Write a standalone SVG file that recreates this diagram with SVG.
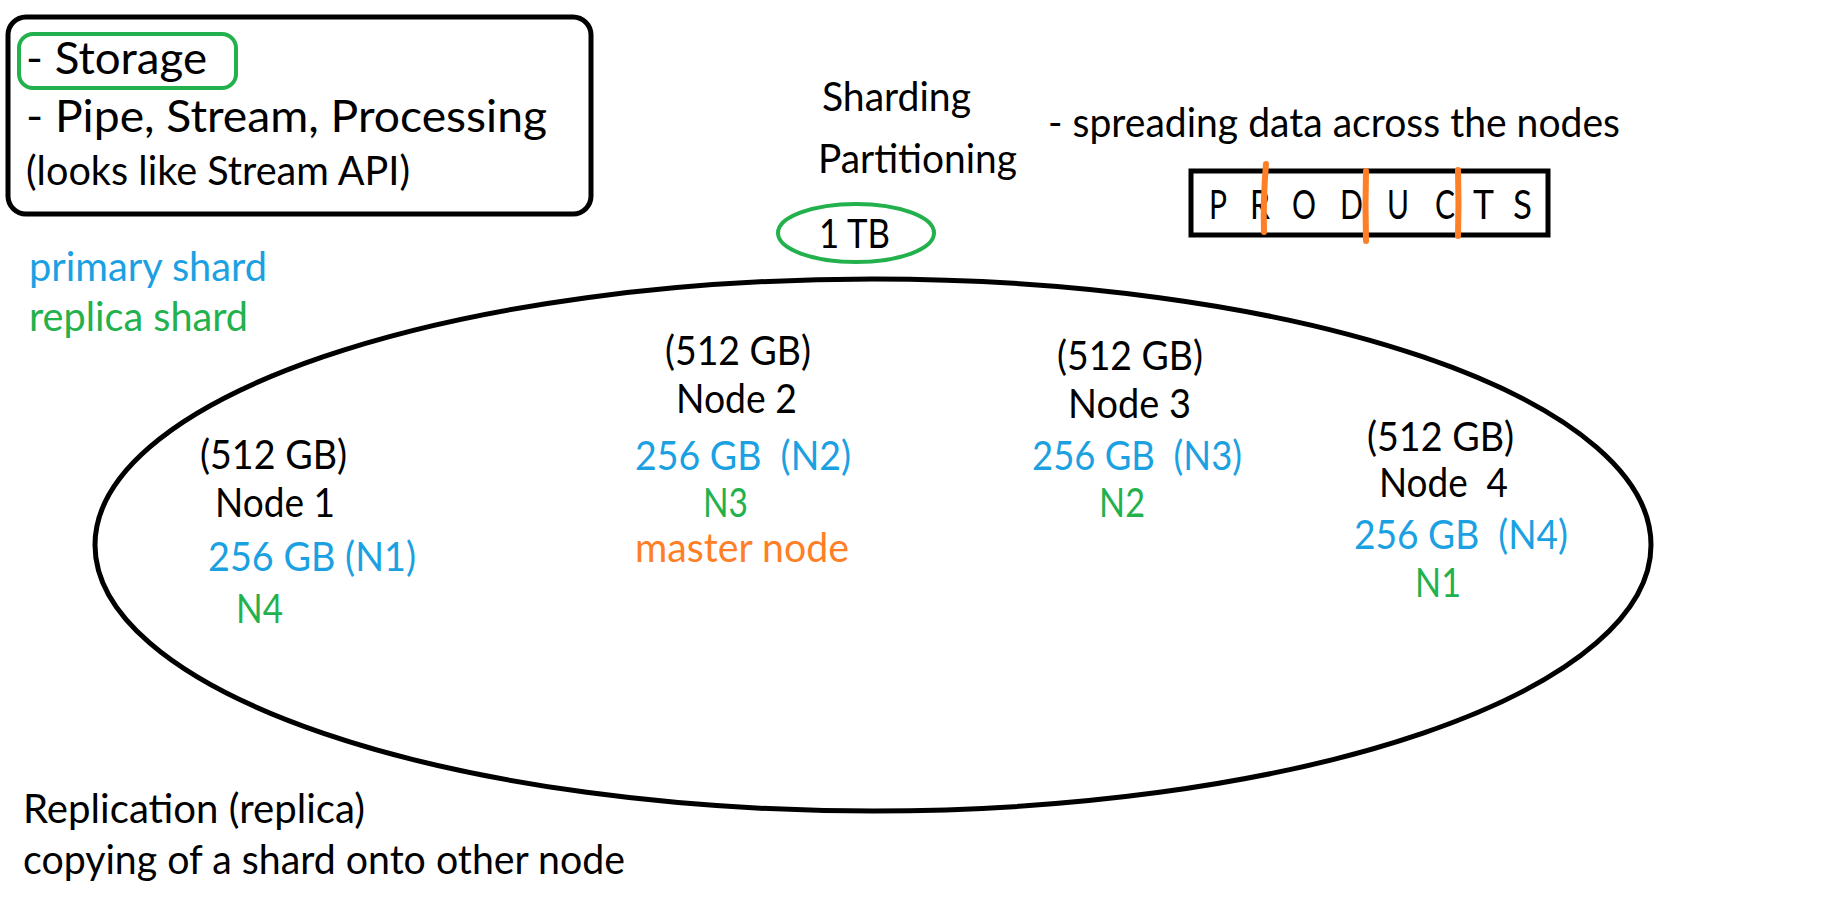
<svg xmlns="http://www.w3.org/2000/svg" width="1825" height="916" viewBox="0 0 1825 916">
<style>
text{font-family:"Lato","Open Sans","Liberation Sans",sans-serif;fill:#000;white-space:pre;}
.t{font-size:40px;}
.b{fill:#1ba1e2;}
.g{fill:#22b14c;}
.o{fill:#ff7f27;}
.big{font-size:45px;}
.blk{fill:none;stroke:#000;stroke-width:5;}
.gs{fill:none;stroke:#22b14c;stroke-width:4;}
.os{fill:none;stroke:#ff7f27;stroke-width:6;stroke-linecap:round;}
</style>
<rect width="1825" height="916" fill="#fff"/>
<g id="features">
<rect class="blk" x="8" y="17" width="583" height="197" rx="18"/>
<rect class="gs" x="19" y="34" width="217" height="54" rx="14"/>
<text class="big" x="26" y="74" textLength="181" lengthAdjust="spacingAndGlyphs">- Storage</text>
<text class="big" x="26" y="132" textLength="521" lengthAdjust="spacingAndGlyphs">- Pipe, Stream, Processing</text>
<text class="t" x="26" y="185" textLength="384" lengthAdjust="spacingAndGlyphs">(looks like Stream API)</text>
</g>
<g id="legend">
<text class="t b" x="29" y="281" textLength="238" lengthAdjust="spacingAndGlyphs">primary shard</text>
<text class="t g" x="29" y="331" textLength="219" lengthAdjust="spacingAndGlyphs">replica shard</text>
</g>
<g id="sharding">
<text class="t" x="822" y="111" textLength="149" lengthAdjust="spacingAndGlyphs">Sharding</text>
<text class="t" x="818" y="173" textLength="199" lengthAdjust="spacingAndGlyphs">Partitioning</text>
<ellipse class="gs" cx="856" cy="233" rx="78" ry="29"/>
<text class="t" x="819" y="248" textLength="71" lengthAdjust="spacingAndGlyphs">1 TB</text>
<text class="t" x="1048" y="137" textLength="572" lengthAdjust="spacingAndGlyphs">- spreading data across the nodes</text>
</g>
<g id="products">
<rect class="blk" x="1191" y="171" width="357" height="64"/>
<text class="t" x="1209" y="219" textLength="18" lengthAdjust="spacingAndGlyphs">P</text>
<text class="t" x="1250" y="219" textLength="20" lengthAdjust="spacingAndGlyphs">R</text>
<text class="t" x="1292" y="219" textLength="24" lengthAdjust="spacingAndGlyphs">O</text>
<text class="t" x="1340" y="219" textLength="23" lengthAdjust="spacingAndGlyphs">D</text>
<text class="t" x="1387" y="219" textLength="22" lengthAdjust="spacingAndGlyphs">U</text>
<text class="t" x="1435" y="219" textLength="20" lengthAdjust="spacingAndGlyphs">C</text>
<text class="t" x="1473" y="219" textLength="21" lengthAdjust="spacingAndGlyphs">T</text>
<text class="t" x="1513" y="219" textLength="19" lengthAdjust="spacingAndGlyphs">S</text>
<path class="os" d="M1266 164 Q1263 200 1264 232"/>
<path class="os" d="M1366 171 Q1365 205 1366 241"/>
<path class="os" d="M1458 170 Q1459 203 1458 236"/>
</g>
<g id="cluster">
<ellipse class="blk" cx="873" cy="545" rx="778" ry="266"/>
</g>
<g id="node1">
<text class="t" x="200" y="469" textLength="147" lengthAdjust="spacingAndGlyphs">(512 GB)</text>
<text class="t" x="215" y="517" textLength="120" lengthAdjust="spacingAndGlyphs">Node 1</text>
<text class="t b" x="208" y="571" textLength="208" lengthAdjust="spacingAndGlyphs">256 GB (N1)</text>
<text class="t g" x="236" y="623" textLength="47" lengthAdjust="spacingAndGlyphs">N4</text>
</g>
<g id="node2">
<text class="t" x="665" y="365" textLength="146" lengthAdjust="spacingAndGlyphs">(512 GB)</text>
<text class="t" x="676" y="413" textLength="121" lengthAdjust="spacingAndGlyphs">Node 2</text>
<text class="t b" x="635" y="470" textLength="216" lengthAdjust="spacingAndGlyphs">256 GB  (N2)</text>
<text class="t g" x="703" y="517" textLength="45" lengthAdjust="spacingAndGlyphs">N3</text>
<text class="t o" x="635" y="562" textLength="214" lengthAdjust="spacingAndGlyphs">master node</text>
</g>
<g id="node3">
<text class="t" x="1057" y="370" textLength="146" lengthAdjust="spacingAndGlyphs">(512 GB)</text>
<text class="t" x="1068" y="418" textLength="123" lengthAdjust="spacingAndGlyphs">Node 3</text>
<text class="t b" x="1032" y="470" textLength="210" lengthAdjust="spacingAndGlyphs">256 GB  (N3)</text>
<text class="t g" x="1099" y="517" textLength="46" lengthAdjust="spacingAndGlyphs">N2</text>
</g>
<g id="node4">
<text class="t" x="1367" y="451" textLength="147" lengthAdjust="spacingAndGlyphs">(512 GB)</text>
<text class="t" x="1379" y="497" textLength="129" lengthAdjust="spacingAndGlyphs">Node  4</text>
<text class="t b" x="1354" y="549" textLength="214" lengthAdjust="spacingAndGlyphs">256 GB  (N4)</text>
<text class="t g" x="1415" y="597" textLength="46" lengthAdjust="spacingAndGlyphs">N1</text>
</g>
<g id="replication">
<text class="t" x="23" y="823" textLength="342" lengthAdjust="spacingAndGlyphs">Replication (replica)</text>
<text class="t" x="23" y="874" textLength="602" lengthAdjust="spacingAndGlyphs">copying of a shard onto other node</text>
</g>
<g id="connectors"></g>
</svg>
